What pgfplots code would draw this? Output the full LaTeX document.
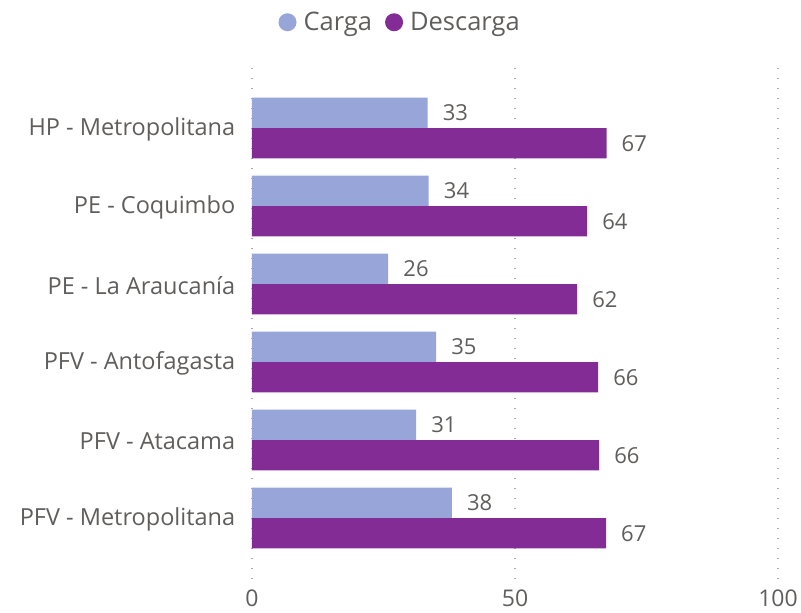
\documentclass[border=0pt]{standalone}
\usepackage{fontspec}
\setmainfont{Open Sans}
\usepackage{pgfplots}
\pgfplotsset{compat=1.18}
\definecolor{carga}{HTML}{97A5D9}
\definecolor{descarga}{HTML}{832C96}
\definecolor{txt}{HTML}{605E5C}
\definecolor{gridc}{HTML}{AAAAAA}
\begin{document}
\begin{tikzpicture}
\useasboundingbox (0,0) rectangle (801pt,613pt);
\begin{axis}[
  at={(252pt,31pt)}, anchor=south west,
  scale only axis, width=526pt, height=514pt,
  xbar, xmin=0, xmax=100, ymin=-0.77, ymax=5.82,
  y dir=reverse,
  axis line style={draw=none},
  tick style={draw=none},
  xtick={0,50,100},
  ytick={0,1,2,3,4,5},
  yticklabels={HP - Metropolitana, PE - Coquimbo, PE - La Araucanía, PFV - Antofagasta, PFV - Atacama, PFV - Metropolitana},
  yticklabel style={font=\fontsize{23.5}{28}\selectfont, text=txt, xshift=-9pt, yshift=-1.5pt},
  xticklabel style={font=\fontsize{23}{27}\selectfont, text=txt, yshift=-4pt},
  /pgf/number format/assume math mode=true,
  xmajorgrids,
  grid style={gridc, line width=1.2pt, dash pattern=on 1.2pt off 8.8pt},
  bar width=0.39,
  nodes near coords,
  point meta=explicit symbolic,
  every node near coord/.append style={font=\fontsize{22}{26}\selectfont, text=txt, anchor=west, inner sep=0pt, xshift=15pt},
  legend columns=2,
  legend style={draw=none, fill=none, at={(rel axis cs:0.05,1.089)}, anchor=west, inner sep=0pt,
    font=\fontsize{25.5}{30}\selectfont, text=txt,
    /tikz/every odd column/.append style={column sep=5pt},
    /tikz/every even column/.append style={column sep=11pt}},
  legend cell align=left,
]
\addplot[fill=carga, draw=none, bar shift=-0.195,
  legend image code/.code={\fill[carga] (0.3em,0pt) circle (9pt);}]
  coordinates {(33.4,0)[33] (33.6,1)[34] (25.9,2)[26] (35.0,3)[35] (31.2,4)[31] (38.0,5)[38]};
\addplot[fill=descarga, draw=none, bar shift=0.195,
  legend image code/.code={\fill[descarga] (0.3em,0pt) circle (9pt);}]
  coordinates {(67.4,0)[67] (63.7,1)[64] (61.8,2)[62] (65.8,3)[66] (66.0,4)[66] (67.3,5)[67]};
\legend{Carga, Descarga}
\end{axis}
\end{tikzpicture}
\end{document}
